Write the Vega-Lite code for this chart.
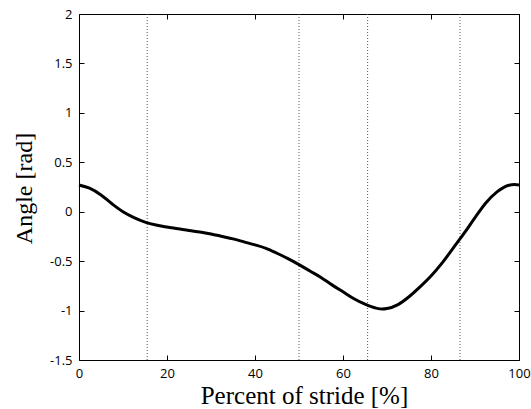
{
  "$schema": "https://vega.github.io/schema/vega-lite/v6.json",
  "width": 440,
  "height": 346,
  "autosize": {"type": "none"},
  "padding": {"left": 79, "top": 14, "right": 12, "bottom": 49},
  "background": "white",
  "config": {
    "view": {"stroke": null},
    "axis": {
      "grid": false,
      "domainColor": "black",
      "domainWidth": 1,
      "tickColor": "black",
      "tickSize": -5,
      "tickWidth": 1,
      "labelFont": "Open Sans",
      "labelFontSize": 13,
      "labelColor": "black",
      "labelFlush": false,
      "labelOverlap": false,
      "labelBound": false,
      "titleFont": "Liberation Serif",
      "titleFontSize": 25,
      "titleFontWeight": "normal",
      "titleColor": "black"
    }
  },
  "datasets": {
    "stride": [
      {"pct": 0, "angle": 0.27},
      {"pct": 2.5, "angle": 0.235},
      {"pct": 5, "angle": 0.17},
      {"pct": 7.5, "angle": 0.08},
      {"pct": 10, "angle": 0.0},
      {"pct": 12.5, "angle": -0.06},
      {"pct": 15, "angle": -0.105},
      {"pct": 17.5, "angle": -0.135},
      {"pct": 20, "angle": -0.155},
      {"pct": 22.5, "angle": -0.172},
      {"pct": 25, "angle": -0.19},
      {"pct": 27.5, "angle": -0.205},
      {"pct": 30, "angle": -0.225},
      {"pct": 32.5, "angle": -0.25},
      {"pct": 35, "angle": -0.275},
      {"pct": 37.5, "angle": -0.305},
      {"pct": 40, "angle": -0.335},
      {"pct": 42.5, "angle": -0.37},
      {"pct": 45, "angle": -0.42},
      {"pct": 47.5, "angle": -0.475},
      {"pct": 50, "angle": -0.535},
      {"pct": 52.5, "angle": -0.6},
      {"pct": 55, "angle": -0.665},
      {"pct": 57.5, "angle": -0.74},
      {"pct": 60, "angle": -0.81},
      {"pct": 62.5, "angle": -0.88},
      {"pct": 65, "angle": -0.935},
      {"pct": 67.5, "angle": -0.975},
      {"pct": 69, "angle": -0.985},
      {"pct": 70, "angle": -0.98},
      {"pct": 72.5, "angle": -0.94},
      {"pct": 75, "angle": -0.86},
      {"pct": 77.5, "angle": -0.76},
      {"pct": 80, "angle": -0.65},
      {"pct": 82.5, "angle": -0.52},
      {"pct": 85, "angle": -0.37},
      {"pct": 87.5, "angle": -0.22},
      {"pct": 90, "angle": -0.06},
      {"pct": 92.5, "angle": 0.09},
      {"pct": 95, "angle": 0.2},
      {"pct": 97.5, "angle": 0.265},
      {"pct": 99, "angle": 0.275},
      {"pct": 100, "angle": 0.27}
    ],
    "events": [
      {"pct": 15.5},
      {"pct": 50},
      {"pct": 65.6},
      {"pct": 86.6}
    ]
  },
  "layer": [
    {
      "data": {"name": "events"},
      "mark": {"type": "rule", "color": "#555555", "strokeWidth": 1, "strokeDash": [1, 2]},
      "encoding": {
        "x": {
          "field": "pct", "type": "quantitative",
          "scale": {"domain": [0, 100], "nice": false},
          "axis": {"orient": "top", "values": [0, 20, 40, 60, 80, 100], "labels": false, "title": null}
        },
        "y": {
          "datum": -1.5, "type": "quantitative",
          "scale": {"domain": [-1.5, 2], "nice": false},
          "axis": {"orient": "right", "values": [-1.5, -1, -0.5, 0, 0.5, 1, 1.5, 2], "labels": false, "title": null}
        },
        "y2": {"datum": 2}
      }
    },
    {
      "data": {"name": "stride"},
      "mark": {"type": "line", "color": "black", "strokeWidth": 3, "interpolate": "monotone"},
      "encoding": {
        "x": {
          "field": "pct", "type": "quantitative",
          "scale": {"domain": [0, 100], "nice": false},
          "axis": {
            "orient": "bottom",
            "values": [0, 20, 40, 60, 80, 100],
            "labelExpr": "'' + datum.value",
            "labelPadding": 12,
            "title": "Percent of stride [%]",
            "titleBaseline": "alphabetic",
            "titleX": 225,
            "titleY": 43
          }
        },
        "y": {
          "field": "angle", "type": "quantitative",
          "scale": {"domain": [-1.5, 2], "nice": false},
          "axis": {
            "orient": "left",
            "values": [-1.5, -1, -0.5, 0, 0.5, 1, 1.5, 2],
            "labelExpr": "'' + datum.value",
            "labelPadding": 12,
            "title": "Angle [rad]",
            "titleFontSize": 24,
            "titleAngle": -90,
            "titleAlign": "center",
            "titleBaseline": "alphabetic",
            "titleX": -48,
            "titleY": 174
          }
        }
      }
    }
  ],
  "resolve": {"axis": {"x": "independent", "y": "independent"}}
}
